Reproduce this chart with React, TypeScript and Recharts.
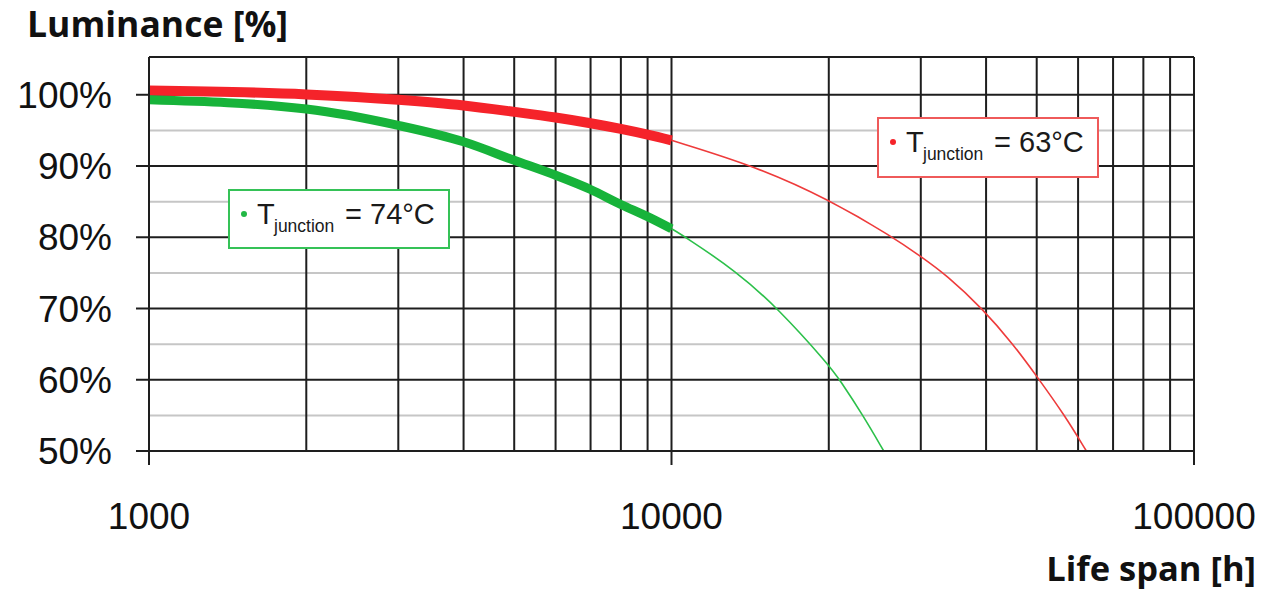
import React from 'react'
import {
  LineChart,
  Line,
  XAxis,
  YAxis,
  CartesianGrid,
} from 'recharts'

// life span [h] vs luminance [%]
const redRatedHours = [1000, 2000, 3000, 4000, 5000, 6000, 7000, 8000, 9000, 10000]
const redRatedLum = [100.6, 100.05, 99.3, 98.5, 97.6, 96.8, 96.0, 95.2, 94.4, 93.6]
const redExtHours = [10000, 14550, 20000, 26550, 30000, 33600, 39480, 45060, 50000, 56570, 62230]
const redExtLum = [93.6, 89.9, 85.3, 80.0, 77.3, 74.7, 69.9, 65.0, 60.5, 55.0, 50]

const greenRatedHours = [1000, 2000, 3000, 4000, 5000, 6000, 7000, 8000, 9000, 10000]
const greenRatedLum = [99.3, 98.0, 95.7, 93.4, 90.8, 88.7, 86.7, 84.6, 82.9, 81.2]
const greenExtHours = [10000, 10600, 13320, 16000, 20000, 20990, 23260, 25480]
const greenExtLum = [81.2, 80.1, 75.2, 70, 62.1, 60, 55, 50]

const xTicks = [1000, 10000, 100000]
const yTicks = [50, 60, 70, 80, 90, 100]
const minorY = [55, 65, 75, 85, 95]
const majorY = [60, 70, 80, 90, 100, 105.3]
const gridX = [
  2000, 3000, 4000, 5000, 6000, 7000, 8000, 9000, 10000,
  20000, 30000, 40000, 50000, 60000, 70000, 80000, 90000, 100000,
]

const zip = (hours: number[], lum: number[]) => hours.map((t, i) => ({ t, v: lum[i] }))

const redRated = zip(redRatedHours, redRatedLum)
const redExt = zip(redExtHours, redExtLum)
const greenRated = zip(greenRatedHours, greenRatedLum)
const greenExt = zip(greenExtHours, greenExtLum)

const RED = '#f5232a'
const GREEN = '#17b33a'
const TICK_FONT = "'Liberation Sans', Arial, sans-serif"

function LegendBox({ left, top, height, color, border, temp }: {
  left: number; top: number; height: number; color: string; border: string; temp: string
}) {
  // offsets are relative to the padding box (inside the 2px border)
  return (
    <div
      style={{
        position: 'absolute', left, top, width: 218, height: height - 4,
        border: `2px solid ${border}`, background: '#fff',
        fontFamily: TICK_FONT, color: '#1a1a1a', lineHeight: 'normal',
      }}
    >
      <span style={{
        position: 'absolute', left: 11, top: 20, width: 6, height: 6,
        borderRadius: 3, background: color,
      }} />
      <span style={{ position: 'absolute', left: 27, top: 7, fontSize: 29 }}>T</span>
      <span style={{ position: 'absolute', left: 44, top: 25, fontSize: 17.5 }}>junction</span>
      <span style={{ position: 'absolute', left: 115, top: 7, fontSize: 29 }}>= {temp}</span>
    </div>
  )
}

export default function App() {
  return (
    <div style={{ position: 'absolute', left: 0, top: 0, width: 1267, height: 592, background: '#fff', overflow: 'hidden' }}>
      <LineChart
        width={1267}
        height={592}
        margin={{ top: 57, right: 73, bottom: 0, left: 0 }}
      >
        <CartesianGrid
          horizontalValues={minorY}
          vertical={false}
          stroke="#c6c6c6"
          strokeWidth={2}
        />
        <CartesianGrid
          horizontalValues={majorY}
          verticalValues={gridX}
          stroke="#1e1e1e"
          strokeWidth={2}
        />
        <XAxis
          dataKey="t"
          type="number"
          scale="log"
          domain={[1000, 100000]}
          ticks={xTicks}
          interval={0}
          allowDataOverflow
          height={141}
          axisLine={{ stroke: '#1e1e1e', strokeWidth: 2 }}
          tickLine={{ stroke: '#1e1e1e', strokeWidth: 2 }}
          tickSize={14}
          tickMargin={38}
          tick={{ fill: '#111', fontSize: 37, fontFamily: TICK_FONT }}
        />
        <YAxis
          type="number"
          domain={[50, 105.3]}
          ticks={yTicks}
          interval={0}
          allowDataOverflow
          width={149}
          axisLine={{ stroke: '#1e1e1e', strokeWidth: 2 }}
          tickLine={{ stroke: '#1e1e1e', strokeWidth: 2 }}
          tickSize={13}
          tickMargin={24}
          tickFormatter={(v: number) => `${v}%`}
          tick={{ fill: '#111', fontSize: 37, fontFamily: TICK_FONT }}
        />
        <Line data={redExt} dataKey="v" type="basis" stroke="#ee3b3b" strokeWidth={1.6}
          dot={false} activeDot={false} isAnimationActive={false} />
        <Line data={greenExt} dataKey="v" type="basis" stroke="#2cc04a" strokeWidth={1.6}
          dot={false} activeDot={false} isAnimationActive={false} />
        <Line data={redRated} dataKey="v" type="monotone" stroke={RED} strokeWidth={10}
          dot={false} activeDot={false} isAnimationActive={false} />
        <Line data={greenRated} dataKey="v" type="monotone" stroke={GREEN} strokeWidth={9}
          dot={false} activeDot={false} isAnimationActive={false} />
      </LineChart>

      <div style={{
        position: 'absolute', left: 27, top: 6, fontFamily: "'Open Sans', sans-serif",
        fontWeight: 700, fontSize: 35.5, color: '#111', lineHeight: 1,
      }}>
        Luminance [%]
      </div>
      <div style={{
        position: 'absolute', right: 11, top: 551, fontFamily: "'Open Sans', sans-serif",
        fontWeight: 700, fontSize: 34.5, color: '#111', lineHeight: 1,
      }}>
        Life span [h]
      </div>

      <LegendBox left={877} top={117} height={61} color={RED} border="#ef5a5a" temp="63°C" />
      <LegendBox left={228} top={189} height={60} color="#22b845" border="#35c257" temp="74°C" />
    </div>
  )
}
